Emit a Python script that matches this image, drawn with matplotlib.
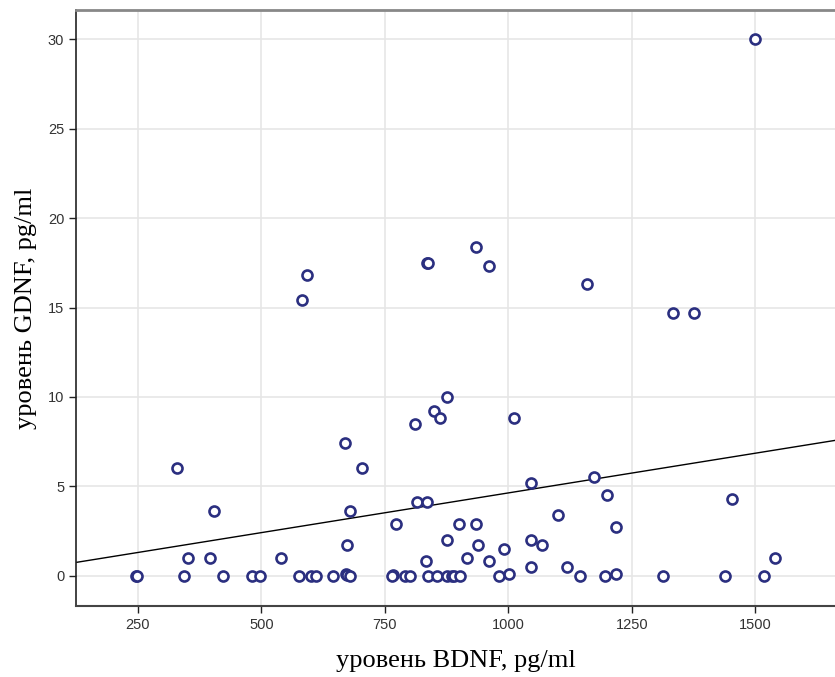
import numpy as np
import matplotlib
matplotlib.use("Agg")
import matplotlib.pyplot as plt

# BDNF (x) and GDNF (y) values
bdnf = [1500, 935, 593, 583, 835, 838, 960, 1158, 1333, 1376,
        875, 850, 862, 811, 1011, 670,
        329, 404, 704, 679, 673, 352, 396, 540,
        773, 815, 835, 1046, 1174, 1199, 1100, 1217, 900, 934, 875, 939,
        917, 833, 961, 990, 1046, 1067, 1046, 1119, 1453, 1540,
        1001, 1217, 672, 674, 767,
        245, 248, 344, 422, 480, 496, 576, 600, 610, 644, 680,
        765, 790, 801, 838, 856, 875, 885, 890, 902, 981, 1145, 1196,
        1312, 1439, 1517]
gdnf = [30.0, 18.4, 16.8, 15.4, 17.5, 17.5, 17.3, 16.3, 14.7, 14.7,
        10.0, 9.2, 8.8, 8.5, 8.8, 7.4,
        6.0, 3.6, 6.0, 3.6, 1.7, 1.0, 1.0, 1.0,
        2.9, 4.1, 4.1, 5.2, 5.5, 4.5, 3.4, 2.7, 2.9, 2.9, 2.0, 1.7,
        1.0, 0.8, 0.8, 1.5, 2.0, 1.7, 0.5, 0.5, 4.3, 1.0,
        0.1, 0.1, 0.1, 0.05, 0.05,
        0, 0, 0, 0, 0, 0, 0, 0, 0, 0, 0,
        0, 0, 0, 0, 0, 0, 0, 0, 0, 0, 0, 0,
        0, 0, 0]

xticks = [250, 500, 750, 1000, 1250, 1500]
yticks = [0, 5, 10, 15, 20, 25, 30]
xlabel = "уровень BDNF, pg/ml"
ylabel = "уровень GDNF, pg/ml"

x = np.array(bdnf, dtype=float)
y = np.array(gdnf, dtype=float)

fig = plt.figure(figsize=(8.35, 6.77), dpi=100)
ax = fig.add_axes([76/835, 71/677, 1 - 76/835, (606-10)/677])

xlim = (124.5, 1661)
ylim = (-1.7, 31.65)
ax.set_xlim(*xlim)
ax.set_ylim(*ylim)

ax.grid(True, color="#e6e6e6", linewidth=1.2, zorder=0)
ax.set_axisbelow(True)

# least-squares fit line
slope, intercept = np.polyfit(x, y, 1)
lx = np.array(xlim)
ax.plot(lx, slope * lx + intercept, color="black", linewidth=1.0, zorder=2)

ax.plot(x, y, linestyle="none", marker="o", markersize=7.2,
        markerfacecolor="white", markeredgecolor="#2b2f80",
        markeredgewidth=1.9, zorder=3)

ax.set_xticks(xticks)
ax.set_yticks(yticks)
ax.tick_params(axis="both", direction="out", length=5, width=1,
               color="#222222", labelcolor="#333333", labelsize=10.5)
for lab in ax.get_xticklabels() + ax.get_yticklabels():
    lab.set_family("Liberation Sans")

ax.spines["right"].set_visible(False)
ax.spines["top"].set_color("#888888")
ax.spines["top"].set_linewidth(2)
ax.spines["left"].set_color("#222222")
ax.spines["bottom"].set_color("#444444")
ax.spines["left"].set_linewidth(1.2)
ax.spines["bottom"].set_linewidth(1.5)

ax.set_xlabel(xlabel, family="Liberation Serif", fontsize=19, labelpad=13)
ax.set_ylabel(ylabel, family="Liberation Serif", fontsize=19, labelpad=8)

fig.savefig("out.png", dpi=100)
